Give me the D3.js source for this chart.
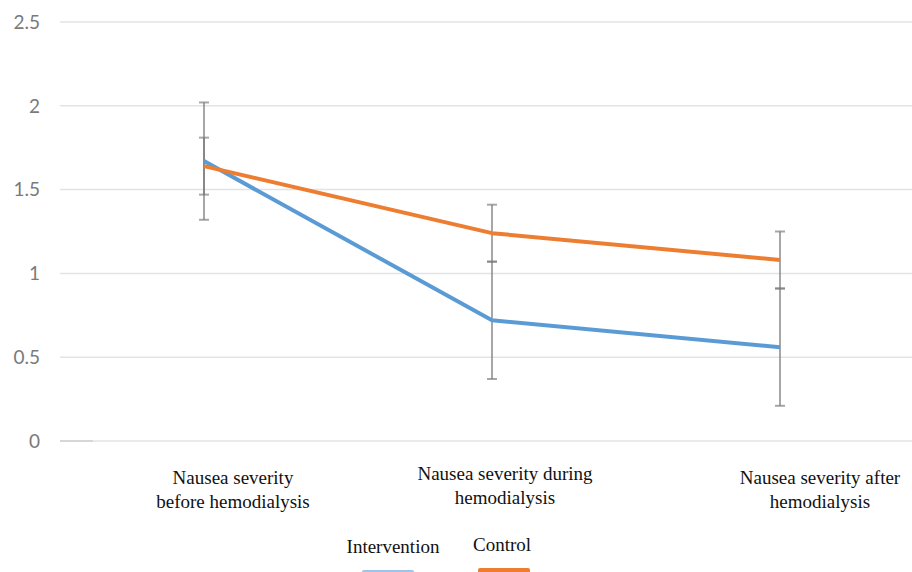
<!DOCTYPE html>
<meta charset="utf-8" />
<style>
  body {
    background: #fff;
    margin: 0px;
  }
  svg {
    display: block;
  }
  .grid line {
    stroke: #e3e3e3;
    stroke-width: 1.5px;
  }
  .ytick {
    font-family: Lato, "Open Sans", sans-serif;
    font-size: 19px;
    fill: #7a7a7a;
  }
  .xlabel, .legend text {
    font-family: "Liberation Serif", "Times New Roman", serif;
    font-size: 19px;
    fill: #111;
  }
  .errbar {
    stroke: rgba(120, 120, 120, 0.65);
    stroke-width: 2px;
  }
</style>
<div id="chart"></div>
<script src="https://cdn.jsdelivr.net/npm/d3@7/dist/d3.min.js"></script>
<script>
  var width = 912,
    height = 572;

  var categories = ["before", "during", "after"];
  var labelLines = [
    ["Nausea severity", "before hemodialysis"],
    ["Nausea severity during", "hemodialysis"],
    ["Nausea severity after", "hemodialysis"],
  ];
  var intervention = [1.67, 0.72, 0.56];
  var control = [1.64, 1.24, 1.08];
  var interventionErr = [0.35, 0.35, 0.35];
  var controlErr = [0.17, 0.17, 0.17];
  var yTicks = [0, 0.5, 1, 1.5, 2, 2.5];
  var seriesNames = ["Intervention", "Control"];

  // the category labels sit a little right of their points, and the middle one higher
  var labelShift = [29, 13, 40];
  var labelTop = [484, 480, 484];

  var colors = ["#5b9bd5", "#ed7d31"];

  var series = [
    { name: seriesNames[0], values: intervention, err: interventionErr, color: colors[0] },
    { name: seriesNames[1], values: control, err: controlErr, color: colors[1] },
  ];

  var x = d3.scalePoint().domain(categories).range([204, 780]);
  var y = d3.scaleLinear().domain([0, 2.5]).range([441, 22]);

  var svg = d3
    .select("#chart")
    .append("svg")
    .attr("width", width)
    .attr("height", height);

  // gridlines
  svg
    .append("g")
    .attr("class", "grid")
    .selectAll("line")
    .data(yTicks)
    .enter()
    .append("line")
    .attr("x1", 60)
    .attr("x2", width)
    .attr("y1", function (d) { return y(d); })
    .attr("y2", function (d) { return y(d); });

  // little stub of the old axis line at zero
  svg
    .append("line")
    .attr("x1", 60)
    .attr("x2", 93)
    .attr("y1", y(0))
    .attr("y2", y(0))
    .style("stroke", "#cfcfcf")
    .style("stroke-width", 1.5);

  svg
    .append("g")
    .selectAll("text")
    .data(yTicks)
    .enter()
    .append("text")
    .attr("class", "ytick")
    .attr("x", 40)
    .attr("y", function (d) { return y(d); })
    .attr("dy", "0.36em")
    .attr("text-anchor", "end")
    .text(function (d) { return d; });

  // error bars
  series.forEach(function (s) {
    var g = svg.append("g");
    s.values.forEach(function (v, i) {
      var cx = x(categories[i]);
      var lo = y(v - s.err[i]),
        hi = y(v + s.err[i]);
      g.append("line").attr("class", "errbar")
        .attr("x1", cx).attr("x2", cx).attr("y1", lo).attr("y2", hi);
      [lo, hi].forEach(function (yy) {
        g.append("line").attr("class", "errbar")
          .attr("x1", cx - 5).attr("x2", cx + 5).attr("y1", yy).attr("y2", yy);
      });
    });
  });

  var line = d3
    .line()
    .x(function (d, i) { return x(categories[i]); })
    .y(function (d) { return y(d); });

  series.forEach(function (s) {
    svg
      .append("path")
      .datum(s.values)
      .attr("d", line)
      .style("fill", "none")
      .style("stroke", s.color)
      .style("stroke-width", 4)
      .style("stroke-linejoin", "round");
  });

  // category labels
  labelLines.forEach(function (lines, i) {
    var t = svg
      .append("text")
      .attr("class", "xlabel")
      .attr("text-anchor", "middle")
      .attr("x", x(categories[i]) + labelShift[i])
      .attr("y", labelTop[i]);
    lines.forEach(function (l, j) {
      t.append("tspan")
        .attr("x", x(categories[i]) + labelShift[i])
        .attr("dy", j === 0 ? 0 : 24)
        .text(l);
    });
  });

  // legend, its swatches run off the bottom edge
  var legend = svg.append("g").attr("class", "legend");
  var legendX = [393, 502];
  var legendTextY = [553, 551];
  var swatchX = [362, 478];
  var swatchTop = [570, 568];
  series.forEach(function (s, i) {
    legend
      .append("text")
      .attr("x", legendX[i])
      .attr("y", legendTextY[i])
      .attr("text-anchor", "middle")
      .text(s.name);
    legend
      .append("rect")
      .attr("x", swatchX[i])
      .attr("y", swatchTop[i])
      .attr("width", 52)
      .attr("height", 8)
      .attr("rx", 2)
      .style("fill", s.color)
      .style("opacity", i ? 1 : 0.6);
  });
</script>
